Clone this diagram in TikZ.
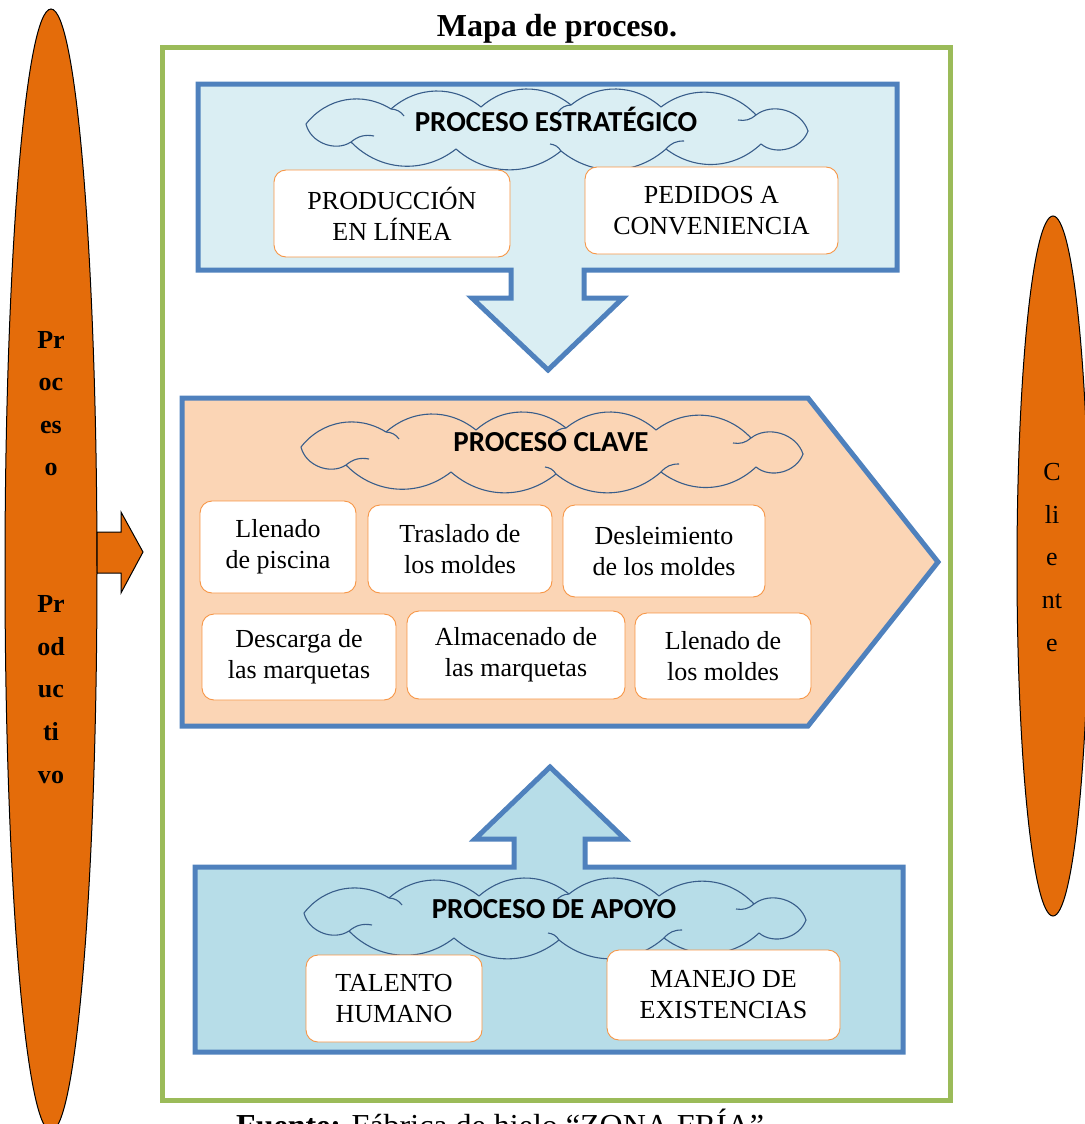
\documentclass[tikz,border=0pt]{standalone}
\usepackage{fontspec}
\setmainfont{Liberation Serif}
\newfontfamily\cloudfont{Carlito}
\usetikzlibrary{shapes.geometric}
\definecolor{frameGreen}{HTML}{9BBB59}
\definecolor{blockBlue}{HTML}{4F81BD}
\definecolor{stratFill}{HTML}{DAEEF3}
\definecolor{keyFill}{HTML}{FBD5B5}
\definecolor{supFill}{HTML}{B7DDE8}
\definecolor{boxOrange}{HTML}{F79646}
\definecolor{sideOrange}{HTML}{E46C0A}
\definecolor{cloudLine}{HTML}{385D8A}
\begin{document}
\begin{tikzpicture}[x=1pt,y=-1pt,
  block/.style={draw=blockBlue,line width=5pt,line join=miter},
  taskbox/.style={draw=boxOrange,line width=0.9pt,fill=white,rounded corners=12pt,
    align=center,font=\fontsize{26}{31}\selectfont,inner sep=0pt},
  cloudtext/.style={font=\cloudfont\bfseries\fontsize{29}{34}\selectfont},
  side/.style={ellipse,draw=black,line width=1pt,fill=sideOrange,inner sep=0pt},
  sidetext/.style={align=center,font=\fontsize{26}{42.5}\selectfont},
  puffcloud/.pic={
    \draw[cloudLine,line width=1.1pt,line join=round]
      (-250,-4) to[bend left=42] (-165,-19) to[bend left=40] (-75,-21)
      to[bend left=40] (15,-23) to[bend left=40] (105,-21) to[bend left=42] (200,-13)
      to[bend left=55] (252,3) to[bend left=55] (205,16) to[bend left=40] (110,21)
      to[bend left=40] (5,23) to[bend left=40] (-100,21) to[bend left=42] (-205,14)
      to[bend left=55] cycle;
    \draw[cloudLine,line width=1.1pt]
      (-205,14) to[bend left=25] (-182,8)
      (-165,-19) to[bend left=25] (-152,-12)
      (15,-23) to[bend right=25] (2,-16)
      (200,-13) to[bend left=25] (182,-8)
      (110,21) to[bend left=25] (128,13)
      (5,23) to[bend right=25] (-6,16);
  }]
\useasboundingbox (0,0) rectangle (1084,1124);

% side ellipses
\node[side,minimum width=92pt,minimum height=1122pt] (left) at (51,570) {};
\node[side,minimum width=72pt,minimum height=700pt] (right) at (1053,566) {};
\node[sidetext,font=\bfseries\fontsize{26}{42.3}\selectfont] (lt1) at (51,403.5) {Pr\\oc\\es\\o};
\node[sidetext,font=\bfseries\fontsize{26}{42.75}\selectfont] (lt2) at (51,689.5) {Pr\\od\\uc\\ti\\vo};
\node[sidetext,font=\fontsize{26}{42.75}\selectfont] (rt) at (1052,557.5) {C\\li\\e\\nt\\e};

% entry arrow
\draw[fill=sideOrange,line width=1pt] (97,532) -- (121,532) -- (121,512) -- (143,552)
  -- (121,593) -- (121,573) -- (97,573) -- cycle;

% frame and title
\node[font=\bfseries\fontsize{32}{36}\selectfont] (title) at (557,29) {Mapa de proceso.};
\draw[frameGreen,line width=5pt] (162,48) rectangle (950,1100);

% strategic block with downward arrow
\draw[block,fill=stratFill] (198,84) -- (897,84) -- (897,270) -- (584,270) -- (584,298)
  -- (623,298) -- (548,370) -- (472,298) -- (511,298) -- (511,270) -- (198,270) -- cycle;
\pic at (556,128) {puffcloud};
\node[cloudtext] (t1) at (556,119) {PROCESO ESTRATÉGICO};
\node[taskbox,minimum width=236pt,minimum height=87pt] (prod) at (392,213.5) {PRODUCCIÓN\\EN LÍNEA};
\node[taskbox,minimum width=253pt,minimum height=87pt] (ped) at (711.5,210.5) {PEDIDOS A\\CONVENIENCIA};

% key process
\draw[block,fill=keyFill] (182,398) -- (808,398) -- (938,562) -- (808,726) -- (182,726) -- cycle;
\pic at (551,451) {puffcloud};
\node[cloudtext] (t2) at (551,442) {PROCESO CLAVE};
\node[taskbox,minimum width=156pt,minimum height=92pt] (k1) at (278,547) {Llenado\\de piscina};
\node[taskbox,minimum width=184pt,minimum height=88pt] (k2) at (460,549) {Traslado de\\los moldes};
\node[taskbox,minimum width=202pt,minimum height=92pt] (k3) at (664,551) {Desleimiento\\de los moldes};
\node[taskbox,minimum width=194pt,minimum height=86pt] (k4) at (299,657) {Descarga de\\las marquetas};
\node[taskbox,minimum width=218pt,minimum height=88pt] (k5) at (516,655) {Almacenado de\\las marquetas};
\node[taskbox,minimum width=176pt,minimum height=86pt] (k6) at (723,656) {Llenado de\\los moldes};

% support block with upward arrow
\draw[block,fill=supFill] (195,867) -- (514,867) -- (514,839) -- (475,839) -- (550,767)
  -- (625,839) -- (585,839) -- (585,867) -- (903,867) -- (903,1052) -- (195,1052) -- cycle;
\pic at (554,917) {puffcloud};
\node[cloudtext] (t3) at (554,909) {PROCESO DE APOYO};
\node[taskbox,minimum width=176pt,minimum height=87pt] (tal) at (394,998.5) {TALENTO\\HUMANO};
\node[taskbox,minimum width=233pt,minimum height=90pt] (man) at (723.5,995) {MANEJO DE\\EXISTENCIAS};

% source line
\node[anchor=base west,inner sep=0pt,font=\fontsize{32}{36}\selectfont] (src) at (236,1136)
  {\textbf{Fuente:} Fábrica de hielo “ZONA FRÍA”};
\end{tikzpicture}
\end{document}
